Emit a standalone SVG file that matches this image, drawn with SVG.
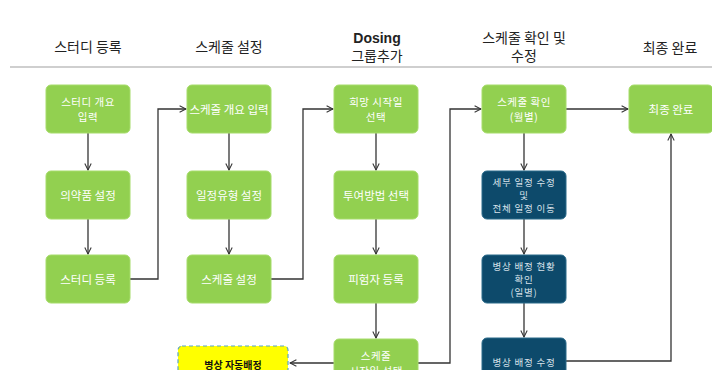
<svg xmlns="http://www.w3.org/2000/svg" width="712" height="370" viewBox="0 0 712 370">
<defs>
<style>
.hd{font-family:"Noto Sans CJK KR","Liberation Sans",sans-serif;font-size:14px;fill:#222;text-anchor:middle;dominant-baseline:central}
.g rect{fill:#92d050;stroke:#a6dc6a;stroke-width:1}
.d rect{fill:#0d4a6b;stroke:#2a6a8a;stroke-width:1}
.g text{font-family:"Noto Sans CJK KR","Liberation Sans",sans-serif;font-size:11.5px;fill:#ffffff;text-anchor:middle;dominant-baseline:central}
.g text.t2{font-size:10.5px;letter-spacing:0.5px}
.d text{font-family:"Noto Sans CJK KR","Liberation Sans",sans-serif;font-size:9.5px;letter-spacing:0.8px;fill:#d8e2ea;text-anchor:middle;dominant-baseline:central}
.c path{fill:none;stroke:#333;stroke-width:1.3;marker-end:url(#ah)}
</style>
<marker id="ah" viewBox="0 0 10 10" refX="9" refY="5" markerWidth="8" markerHeight="8" orient="auto" markerUnits="userSpaceOnUse">
<path d="M1,1 L9,5 L1,9" fill="none" stroke="#333" stroke-width="1.3"/>
</marker>
</defs>
<rect width="712" height="370" fill="#ffffff"/>
<line x1="10" y1="67" x2="712" y2="67" stroke="#cfcfcf" stroke-width="2"/>
<g id="headers">
<text class="hd" x="88" y="46">스터디 등록</text>
<text class="hd" x="229" y="46">스케줄 설정</text>
<text class="hd" x="377" y="38" style="font-weight:bold;font-family:'Liberation Sans',sans-serif">Dosing</text>
<text class="hd" x="377" y="55">그룹추가</text>
<text class="hd" x="524" y="37">스케줄 확인 및</text>
<text class="hd" x="524" y="55">수정</text>
<text class="hd" x="670" y="47">최종 완료</text>
</g>
<g class="c" id="connectors">
<path d="M88,133 V170"/>
<path d="M88,219 V254"/>
<path d="M130,279 H158 V109 H186"/>
<path d="M229,133 V170"/>
<path d="M229,219 V254"/>
<path d="M271,279 H303 V109 H333"/>
<path d="M376,133 V170"/>
<path d="M376,219 V254"/>
<path d="M376,303 V338"/>
<path d="M418,363 H450 V109 H481"/>
<path d="M334,363 H290"/>
<path d="M524,133 V170"/>
<path d="M524,219 V254"/>
<path d="M524,303 V337"/>
<path d="M566,109 H628"/>
<path d="M566,361 H671 V134"/>
</g>
<g id="n1" class="g"><rect x="46" y="85" width="84" height="48" rx="5"/><text class="t2" x="88" y="101">스터디 개요</text><text class="t2" x="88" y="116">입력</text></g>
<g id="n2" class="g"><rect x="46" y="171" width="84" height="48" rx="5"/><text x="88" y="195">의약품 설정</text></g>
<g id="n3" class="g"><rect x="46" y="255" width="84" height="48" rx="5"/><text x="88" y="279">스터디 등록</text></g>
<g id="n4" class="g"><rect x="187" y="85" width="84" height="48" rx="5"/><text x="229" y="109">스케줄 개요 입력</text></g>
<g id="n5" class="g"><rect x="187" y="171" width="84" height="48" rx="5"/><text x="229" y="195">일정유형 설정</text></g>
<g id="n6" class="g"><rect x="187" y="255" width="84" height="48" rx="5"/><text x="229" y="279">스케줄 설정</text></g>
<g id="n7" class="g"><rect x="334" y="85" width="84" height="48" rx="5"/><text class="t2" x="376" y="101">희망 시작일</text><text class="t2" x="376" y="116">선택</text></g>
<g id="n8" class="g"><rect x="334" y="171" width="84" height="48" rx="5"/><text x="376" y="195">투여방법 선택</text></g>
<g id="n9" class="g"><rect x="334" y="255" width="84" height="48" rx="5"/><text x="376" y="279">피험자 등록</text></g>
<g id="n10" class="g"><rect x="334" y="339" width="84" height="48" rx="5"/><text class="t2" x="376" y="355">스케줄</text><text class="t2" x="376" y="370">시작일 선택</text></g>
<g id="n11" class="g"><rect x="482" y="85" width="84" height="48" rx="5"/><text class="t2" x="524" y="101">스케줄 확인</text><text class="t2" x="524" y="116">(월별)</text></g>
<g id="n12" class="d"><rect x="482" y="171" width="84" height="48" rx="5"/><text x="524" y="182">세부 일정 수정</text><text x="524" y="195">및</text><text x="524" y="208">전체 일정 이동</text></g>
<g id="n13" class="d"><rect x="482" y="255" width="84" height="48" rx="5"/><text x="524" y="266">병상 배정 현황</text><text x="524" y="279">확인</text><text x="524" y="292">(일별)</text></g>
<g id="n14" class="d"><rect x="482" y="338" width="84" height="48" rx="5"/><text x="524" y="362">병상 배정 수정</text></g>
<g id="n15" class="g"><rect x="629" y="85" width="84" height="48" rx="5"/><text x="671" y="109">최종 완료</text></g>
<g id="n16"><rect x="178" y="346" width="110" height="40" rx="4" fill="#ffff00" stroke="#5aa5c8" stroke-width="1.2" stroke-dasharray="4,3"/><text x="233" y="364" style="font-family:'Noto Sans CJK KR','Liberation Sans',sans-serif;font-size:10px;font-weight:bold;fill:#111;text-anchor:middle;dominant-baseline:central">병상 자동배정</text></g>
</svg>
